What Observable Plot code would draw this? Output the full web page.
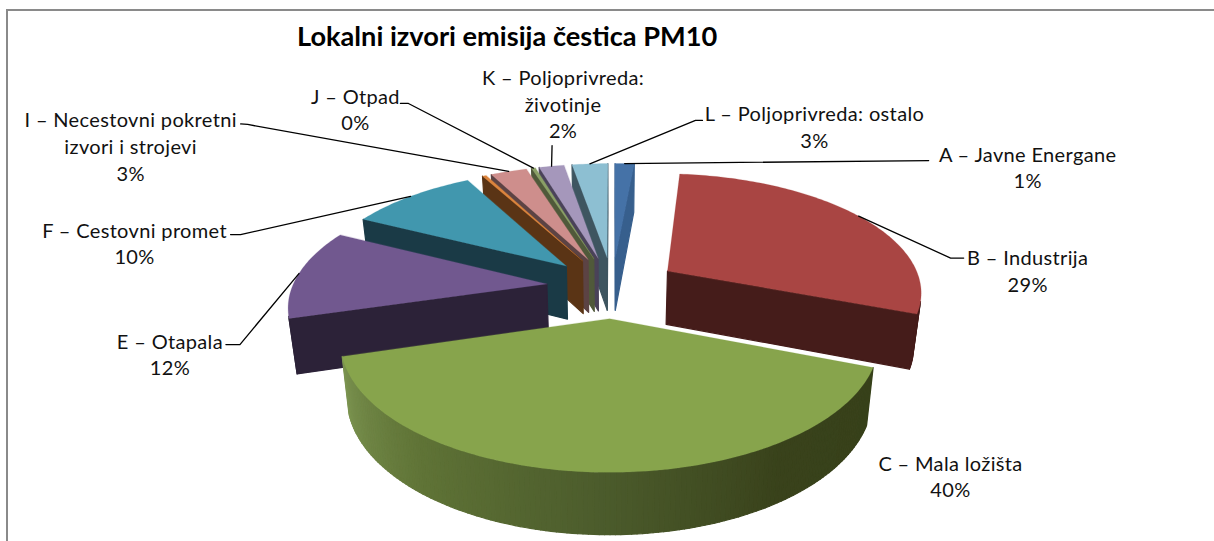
<!DOCTYPE html>
<html><head><meta charset="utf-8">
<script src="https://cdn.jsdelivr.net/npm/d3@7"></script>
<script src="https://cdn.jsdelivr.net/npm/@observablehq/plot@0.6"></script>
<style>
html,body{margin:0;padding:0;background:#fff;overflow:hidden}
#frame{position:absolute;left:6px;top:9px;width:1208px;height:532px;border-top:2px solid #8a8a8a;border-left:2px solid #8a8a8a;box-sizing:border-box;pointer-events:none}
#title{position:absolute;left:297px;top:20px;margin:0;font:700 27.2px/32px Lato,sans-serif;color:#000;white-space:nowrap}
#chart{position:absolute;left:0;top:0}
</style></head><body>
<div id="chart"></div>
<div id="frame"></div>
<h1 id="title">Lokalni izvori emisija čestica PM10</h1>
<script>
// Data, in pie order (clockwise from 12 o'clock)
const ids    = ["A","B","C","E","F","G","I","J","K","L"];
const names  = ["A – Javne Energane","B – Industrija","C – Mala ložišta","E – Otapala","F – Cestovni promet","G","I – Necestovni pokretni\nizvori i strojevi","J – Otpad","K – Poljoprivreda:\nživotinje","L – Poljoprivreda: ostalo"];
const values = [1.45,29.4,39.6,12,9.6,0.3,2.75,0.3,1.9,2.7];
const unlabeled = ["G"];

// Styles
const topColors  = {A:"#4572a7",B:"#a94543",C:"#87a44c",E:"#71588f",F:"#4197ae",G:"#db843d",I:"#ce8e8c",J:"#8a9f66",K:"#a597bb",L:"#8dbfd2"};
const wallColors = {A:"#375f8d",B:"#451c1a",C:"#39421b",E:"#2c2238",F:"#1a3a46",G:"#5a3415",I:"#5c4344",J:"#50593a",K:"#4a4259",L:"#3e5560"};
const cWallStops = ["#7b9350","#5f7336","#4c5c2c","#39421b","#37411a"];
const drawOrder  = ["A","L","K","J","I","G","F","E","B","C"];

// Projection of the tilted pie
const cx=612, cy=286.3, R=254.5, RK=117.6, persp=0.16, explode=0.26;
const project=(u,v)=>{const w=1+persp*v;return [cx+R*u/w, cy-RK*v/w];};
const lower=([x,y])=>[cx+(x-cx)*0.975, y+54+0.045*(y-cy)];

// Label layout, relative to the slice's rim point
const labelOffset={A:[403,3],B:[169,54],C:null,E:[-129,80],F:[-276,46.2],I:[-378,-26],J:[-178,-59.6],K:[11.5,-63],L:[224.6,-38]};
const leaderOffset={A:[[304,-3]],B:[[92,42],[105,42]],E:[[-59,71],[-73,71]],F:[[-170,38.2],[-180,38.2]],I:[[-261,-47],[-268,-47.5]],J:[[-125,-64.6],[-133,-64.6]],K:[[0.5,-20.6]],L:[[105.6,-43.4],[112.6,-43.4]]};
const cLabel=[950,475];

const total=d3.sum(values);
const arcs=d3.pie().sort(null).value(d=>d)(values);
const slices=ids.map((id,i)=>({id,name:names[i],value:values[i],a0:arcs[i].startAngle,a1:arcs[i].endAngle}));
const polys=[], leaders=[], labels=[];
const facing=p=>d3.polygonArea(p)>0;
let pid=0;
function addPoly(pts,col,isWall){
  const key=pid++;
  for(const [x,y] of pts) polys.push({x,y,key,col,sw:isWall?1.2:0.2});
}
const byId=new Map(slices.map(s=>[s.id,s]));
for(const id of drawOrder){
  const s=byId.get(id), mid=(s.a0+s.a1)/2;
  const ex=explode*Math.sin(mid), ey=explode*Math.cos(mid);
  const rim=a=>project(ex+Math.sin(a),ey+Math.cos(a));
  const apex=project(ex,ey);
  const n=Math.max(2,Math.ceil((s.a1-s.a0)/(Math.PI/180)));
  const rimPts=d3.range(n+1).map(i=>{const a=s.a0+(s.a1-s.a0)*i/n;return {a,p:rim(a)};});
  const wall=wallColors[id];
  // side faces
  const f0=[apex,rimPts[0].p,lower(rimPts[0].p),lower(apex)];
  const f1=[rimPts[n].p,apex,lower(apex),lower(rimPts[n].p)];
  if(facing(f0)) addPoly(f0,wall,true);
  if(facing(f1)) addPoly(f1,wall,true);
  const shade=d3.scaleLinear().domain(d3.range(cWallStops.length).map(i=>s.a0+(s.a1-s.a0)*(1-i/(cWallStops.length-1)))).range(cWallStops);
  for(let i=0;i<n;i++){
    const a=rimPts[i].p,b=rimPts[i+1].p;
    const q=[a,b,lower(b),lower(a)];
    if(facing(q)) addPoly(q,id==="C"?d3.color(shade((rimPts[i].a+rimPts[i+1].a)/2)).formatHex():wall,true);
  }
  addPoly([apex,...rimPts.map(r=>r.p)],topColors[id],false);
  // labels and leaders
  if(unlabeled.includes(id)) continue;
  const anchor=project((1+explode)*Math.sin(mid),(1+explode)*Math.cos(mid));
  const text=s.name+"\n"+Math.round(s.value/total*100)+"%";
  if(labelOffset[id]){
    labels.push({x:anchor[0]+labelOffset[id][0],y:anchor[1]+labelOffset[id][1],text});
    [anchor,...leaderOffset[id].map(o=>[anchor[0]+o[0],anchor[1]+o[1]])].forEach(p=>leaders.push({x:p[0],y:p[1],id}));
  } else labels.push({x:cLabel[0],y:cLabel[1],text});
}

const plot=Plot.plot({
  width:1214,height:541,margin:0,
  x:{domain:[0,1214],range:[0,1214],axis:null},
  y:{domain:[0,541],range:[0,541],axis:null},
  style:{background:"#fff",letterSpacing:"0.35px"},
  marks:[
    Plot.line(polys,{x:"x",y:"y",z:"key",fill:"col",stroke:"col",strokeWidth:"sw",curve:"linear-closed"}),
    Plot.line(leaders,{x:"x",y:"y",z:"id",stroke:"#000",strokeWidth:1.3}),
    Plot.text(labels,{x:"x",y:"y",text:"text",fontFamily:"Lato",fontSize:20,lineHeight:1.33,fill:"#111",textAnchor:"middle"})
  ]
});
plot.style.display="block";
document.getElementById("chart").append(plot);
</script>
</body></html>
